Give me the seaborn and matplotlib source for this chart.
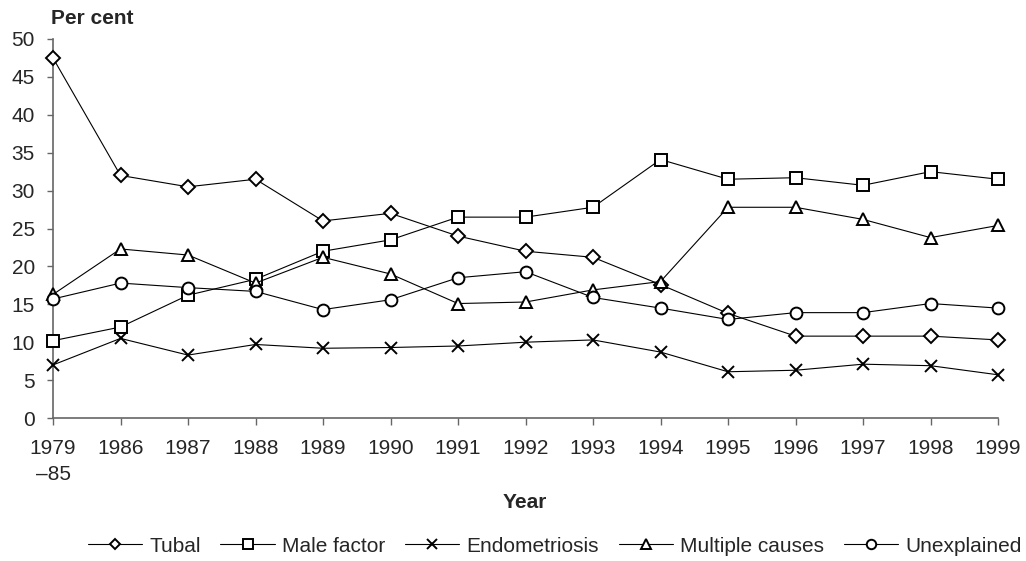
import pandas as pd
import matplotlib
matplotlib.use('Agg')
import matplotlib.pyplot as plt
import seaborn as sns

# Data
years = ['1979\n\u201385', '1986', '1987', '1988', '1989', '1990', '1991', '1992',
         '1993', '1994', '1995', '1996', '1997', '1998', '1999']
tubal = [47.5, 32.0, 30.5, 31.5, 26.0, 27.0, 24.0, 22.0, 21.2, 17.6, 13.8, 10.8, 10.8, 10.8, 10.3]
male_factor = [10.2, 12.0, 16.2, 18.3, 22.0, 23.5, 26.5, 26.5, 27.8, 34.1, 31.5, 31.7, 30.7, 32.5, 31.5]
endometriosis = [7.0, 10.5, 8.3, 9.7, 9.2, 9.3, 9.5, 10.0, 10.3, 8.7, 6.1, 6.3, 7.1, 6.9, 5.7]
multiple_causes = [16.3, 22.3, 21.5, 17.8, 21.2, 19.0, 15.1, 15.3, 16.9, 18.0, 27.8, 27.8, 26.2, 23.8, 25.4]
unexplained = [15.7, 17.8, 17.2, 16.7, 14.3, 15.6, 18.5, 19.3, 15.9, 14.5, 13.0, 13.9, 13.9, 15.1, 14.5]

series = {
    'Tubal': (tubal, 'D', 7),
    'Male factor': (male_factor, 's', 8.5),
    'Endometriosis': (endometriosis, 'x', 9),
    'Multiple causes': (multiple_causes, '^', 9),
    'Unexplained': (unexplained, 'o', 8.5),
}

sns.set_style('white')
plt.rcParams['font.family'] = ['Liberation Sans', 'DejaVu Sans']

fig = plt.figure(figsize=(10.26, 5.61), dpi=100)
ax = fig.add_axes([53 / 1026, 1 - 418 / 561, (998 - 53) / 1026, (418 - 39) / 561])

pos = list(range(len(years)))
for name, (vals, mk, ms) in series.items():
    df = pd.DataFrame({'pos': pos, 'val': vals})
    sns.lineplot(data=df, x='pos', y='val', ax=ax, color='black', linewidth=0.8,
                 marker=mk, markersize=ms, markerfacecolor='white',
                 markeredgecolor='black', markeredgewidth=1.4, label=name,
                 clip_on=False, zorder=3)

ax.set_xlim(0, 14)
ax.set_ylim(0, 50)
ax.set_xticks(pos)
ax.set_xticklabels(years, fontsize=15, ha='center', va='top')
for lbl in ax.get_xticklabels():
    lbl.set_multialignment('center')
    lbl.set_linespacing(1.45)
ax.set_yticks(range(0, 51, 5))
ax.tick_params(axis='y', labelsize=15, length=4.5, width=1, direction='out', left=True,
               color='#666666', pad=8.5)
ax.tick_params(axis='x', labelsize=15, length=5, width=1, direction='out', bottom=True,
               color='#666666', pad=10)
for s in ['top', 'right']:
    ax.spines[s].set_visible(False)
for s in ['left', 'bottom']:
    ax.spines[s].set_color('#666666')
    ax.spines[s].set_linewidth(1.2)
ax.set_xlabel('')
ax.set_ylabel('')

fig.text(92 / 1026, 1 - 19 / 561, 'Per cent', fontsize=15, fontweight='bold', ha='center', va='center')
fig.text(525 / 1026, 1 - 502 / 561, 'Year', fontsize=15, fontweight='bold', ha='center', va='center')

handles, labels = ax.get_legend_handles_labels()
ax.legend(handles, labels, ncol=5, frameon=False, fontsize=15, loc='center right',
          bbox_to_anchor=(1026 / 1026, 1 - 546 / 561), bbox_transform=fig.transFigure,
          handlelength=2.6, handletextpad=0.35, columnspacing=0.95, markerscale=0.8,
          borderpad=0.1, borderaxespad=0.1)

fig.savefig('out.png', dpi=100)
